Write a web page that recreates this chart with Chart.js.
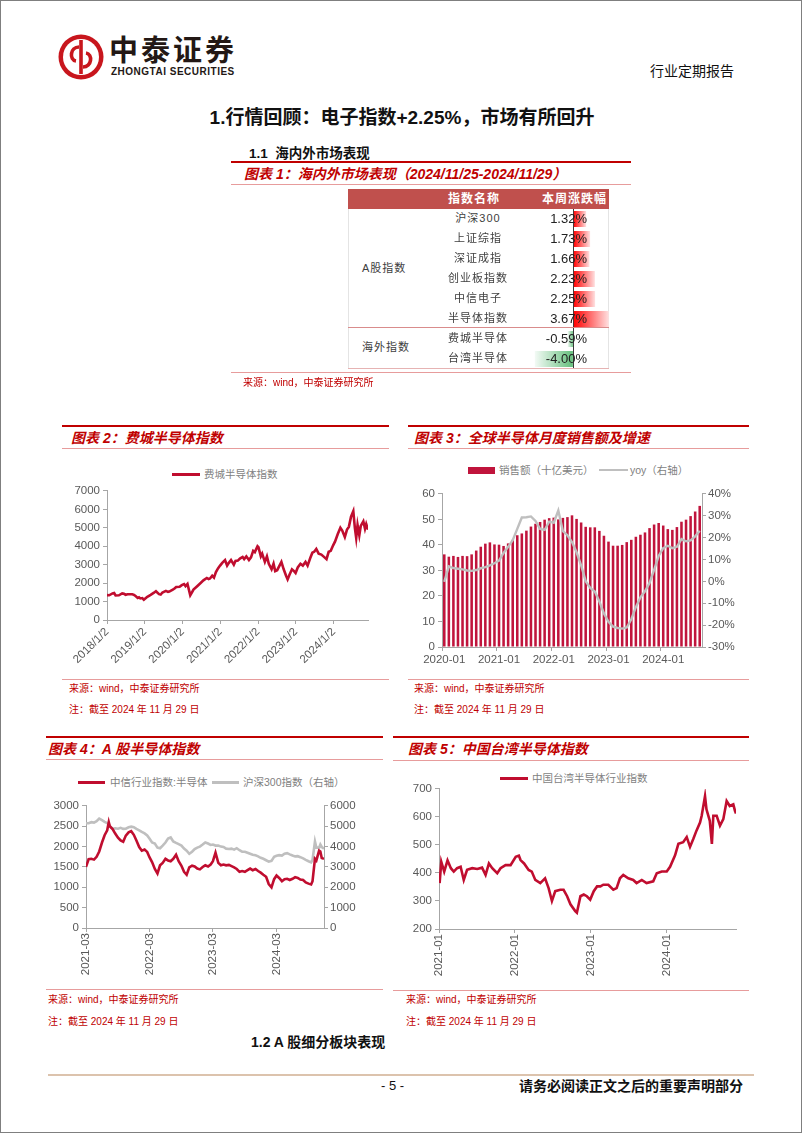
<!DOCTYPE html>
<html>
<head>
<meta charset="utf-8">
<script src="https://cdn.jsdelivr.net/npm/chart.js@4.4.1/dist/chart.umd.min.js"></script>
<style>
body { margin: 0; background: #fff; }
#page { position: relative; width: 802px; height: 1133px; border: 1px solid #7f7f7f; box-sizing: border-box; overflow: hidden; background: #fff;
  font-family: "Liberation Sans", "Noto Sans CJK SC", sans-serif; }
.a { position: absolute; }
.t { position: absolute; white-space: nowrap; line-height: 1; }
.ttl { font-size: 14px; font-weight: bold; font-style: italic; color: #c00000; }
.src { font-size: 10px; color: #c00000; }
.bar-top { position: absolute; height: 2px; background: #c00000; }
.thin { position: absolute; height: 1px; background: #e79c9c; }
.leg { font-size: 10.5px; color: #7f7f7f; }
canvas { position: absolute; }
</style>
</head>
<body>
<div id="page">
  <!-- header -->
  <svg class="a" style="left:56px;top:32px" width="48" height="48" viewBox="0 0 48 48">
    <circle cx="24" cy="24" r="22.5" fill="#c8161d"/>
    <circle cx="24" cy="24" r="18" fill="#fff"/>
    <rect x="22.2" y="7" width="3.6" height="34" fill="#c8161d"/>
    <path d="M22 14 C13 14 12 27 19 28" stroke="#c8161d" stroke-width="3.6" fill="none"/>
    <path d="M26 34 C35 34 36 21 29 20" stroke="#c8161d" stroke-width="3.6" fill="none"/>
  </svg>
  <div class="t" style="left:108px;top:33px;font-size:29px;font-weight:bold;letter-spacing:3px;color:#231815;font-family:'Noto Sans CJK SC'">中泰证券</div>
  <div class="t" style="left:110px;top:66px;font-size:10px;font-weight:bold;color:#231815;letter-spacing:0.5px">ZHONGTAI SECURITIES</div>
  <div class="t" style="left:649px;top:63px;font-size:14px;color:#111">行业定期报告</div>

  <div class="t" style="left:0;width:802px;text-align:center;top:107px;font-size:19px;font-weight:bold;color:#111">1.行情回顾：电子指数+2.25%，市场有所回升</div>

  <!-- section 1.1 and table -->
  <div class="t" style="left:248px;top:146px;font-size:13.5px;font-weight:bold;color:#111">1.1&nbsp; 海内外市场表现</div>
  <div class="bar-top" style="left:230px;top:160px;width:400px"></div>
  <div class="t ttl" style="left:243px;top:166px;font-size:14px">图表 1：海内外市场表现（2024/11/25-2024/11/29）</div>
  <div class="thin" style="left:230px;top:183px;width:400px"></div>

  <div class="a" style="left:347px;top:188px;width:261px;height:20px;background:#c0504d"></div>
  <div class="t" style="left:447px;top:192px;font-size:12px;font-weight:bold;color:#fff;letter-spacing:1px">指数名称</div>
  <div class="t" style="left:541px;top:192px;font-size:12px;font-weight:bold;color:#fff;letter-spacing:1px">本周涨跌幅</div>
  <div class="a" style="left:347px;top:208px;width:259px;height:159px;border-left:1px solid #e4e4e4;border-right:1px solid #e4e4e4"></div>
  <canvas id="cbar" width="80" height="160" style="left:530px;top:208px"></canvas>
  <div id="tbl"></div>
  <div class="a" style="left:347px;top:326px;width:261px;height:1px;background:#d98c8c"></div>
  <div class="a" style="left:347px;top:367px;width:261px;height:1px;background:#e6b3b3"></div>
  <div class="thin" style="left:230px;top:371px;width:400px"></div>
  <div class="t src" style="left:242px;top:377px">来源：wind，中泰证券研究所</div>

  <!-- panel 2 -->
  <div class="bar-top" style="left:61px;top:424px;width:327px"></div>
  <div class="t ttl" style="left:70px;top:430px">图表 2：费城半导体指数</div>
  <div class="thin" style="left:61px;top:447px;width:327px"></div>
  <div class="a" style="left:171px;top:472px;width:28px;height:3px;background:#c00d2f"></div>
  <div class="t leg" style="left:203px;top:468px">费城半导体指数</div>
  <canvas id="c2" width="320" height="190" style="left:56px;top:480px"></canvas>
  <div class="thin" style="left:61px;top:678px;width:327px"></div>
  <div class="t src" style="left:68px;top:683px">来源：wind，中泰证券研究所</div>
  <div class="t src" style="left:68px;top:704px">注：截至 2024 年 11 月 29 日</div>

  <!-- panel 3 -->
  <div class="bar-top" style="left:407px;top:424px;width:341px"></div>
  <div class="t ttl" style="left:413px;top:430px">图表 3：全球半导体月度销售额及增速</div>
  <div class="thin" style="left:407px;top:447px;width:341px"></div>
  <div class="a" style="left:467px;top:466px;width:27px;height:7px;background:#c0143c"></div>
  <div class="t leg" style="left:498px;top:464px">销售额（十亿美元）</div>
  <div class="a" style="left:598px;top:468px;width:29px;height:2px;background:#bfbfbf"></div>
  <div class="t leg" style="left:629px;top:464px">yoy（右轴）</div>
  <canvas id="c3" width="345" height="185" style="left:400px;top:483px"></canvas>
  <div class="thin" style="left:407px;top:678px;width:341px"></div>
  <div class="t src" style="left:413px;top:683px">来源：wind，中泰证券研究所</div>
  <div class="t src" style="left:413px;top:704px">注：截至 2024 年 11 月 29 日</div>

  <!-- panel 4 -->
  <div class="bar-top" style="left:45px;top:735px;width:337px"></div>
  <div class="t ttl" style="left:47px;top:741px">图表 4：A 股半导体指数</div>
  <div class="thin" style="left:45px;top:758px;width:337px"></div>
  <div class="a" style="left:77px;top:780px;width:27px;height:3px;background:#c00d2f"></div>
  <div class="t leg" style="left:109px;top:776px">中信行业指数:半导体</div>
  <div class="a" style="left:211px;top:780px;width:27px;height:3px;background:#bfbfbf"></div>
  <div class="t leg" style="left:242px;top:776px">沪深300指数（右轴）</div>
  <canvas id="c4" width="322" height="185" style="left:40px;top:795px"></canvas>
  <div class="thin" style="left:45px;top:988px;width:337px"></div>
  <div class="t src" style="left:47px;top:994px">来源：wind，中泰证券研究所</div>
  <div class="t src" style="left:47px;top:1016px">注：截至 2024 年 11 月 29 日</div>

  <!-- panel 5 -->
  <div class="bar-top" style="left:392px;top:735px;width:356px"></div>
  <div class="t ttl" style="left:407px;top:741px">图表 5：中国台湾半导体指数</div>
  <div class="thin" style="left:392px;top:759px;width:356px"></div>
  <div class="a" style="left:499px;top:776px;width:28px;height:3px;background:#c00d2f"></div>
  <div class="t leg" style="left:531px;top:772px">中国台湾半导体行业指数</div>
  <canvas id="c5" width="345" height="200" style="left:400px;top:778px"></canvas>
  <div class="thin" style="left:392px;top:989px;width:356px"></div>
  <div class="t src" style="left:405px;top:994px">来源：wind，中泰证券研究所</div>
  <div class="t src" style="left:405px;top:1016px">注：截至 2024 年 11 月 29 日</div>

  <div class="t" style="left:250px;top:1034px;font-size:14px;font-weight:bold;color:#111">1.2 A 股细分板块表现</div>

  <!-- footer -->
  <div class="a" style="left:47px;top:1073px;width:706px;height:2px;background:#dcc3ad"></div>
  <div class="t" style="left:380px;top:1078px;font-size:13px;color:#111">- 5 -</div>
  <div class="t" style="left:518px;top:1078px;font-size:14px;font-weight:bold;color:#111">请务必阅读正文之后的重要声明部分</div>
</div>

<script>
// ---------- table 1 ----------
const tblNames = ['沪深300', '上证综指', '深证成指', '创业板指数', '中信电子', '半导体指数', '费城半导体', '台湾半导体'];
const tblChange = [1.32, 1.73, 1.66, 2.23, 2.25, 3.67, -0.59, -4.00];

// ---------- chart 2: 费城半导体指数 ----------
const soxDates = ['2018-01-02', '2018-01-23', '2018-02-24', '2018-03-12', '2018-03-26', '2018-04-27', '2018-05-29', '2018-06-15',
  '2018-07-01', '2018-07-20', '2018-08-02', '2018-09-03', '2018-09-20', '2018-10-05', '2018-10-26', '2018-11-07', '2018-11-20',
  '2018-12-09', '2018-12-24', '2019-01-10', '2019-01-27', '2019-02-28', '2019-04-01', '2019-04-20', '2019-05-20', '2019-06-05',
  '2019-06-22', '2019-07-25', '2019-08-15', '2019-08-27', '2019-09-30', '2019-10-20', '2019-11-02', '2019-12-05', '2019-12-26',
  '2020-01-17', '2020-01-31', '2020-02-19', '2020-03-17', '2020-04-01', '2020-04-17', '2020-05-20', '2020-06-20', '2020-07-22',
  '2020-08-24', '2020-09-10', '2020-09-24', '2020-10-15', '2020-11-01', '2020-11-20', '2020-12-10', '2020-12-30', '2021-01-20',
  '2021-02-16', '2021-03-08', '2021-03-25', '2021-04-15', '2021-05-12', '2021-05-28', '2021-06-20', '2021-07-10', '2021-08-05',
  '2021-08-20', '2021-09-10', '2021-10-05', '2021-10-25', '2021-11-15', '2021-12-01', '2021-12-27', '2022-01-05', '2022-01-28',
  '2022-02-10', '2022-03-08', '2022-03-28', '2022-04-15', '2022-05-12', '2022-05-31', '2022-06-16', '2022-07-05', '2022-08-15',
  '2022-09-06', '2022-09-29', '2022-10-14', '2022-11-01', '2022-11-25', '2022-12-15', '2022-12-30', '2023-01-20', '2023-02-15',
  '2023-03-10', '2023-04-05', '2023-04-25', '2023-05-20', '2023-06-10', '2023-06-28', '2023-07-18', '2023-08-10', '2023-09-05',
  '2023-09-25', '2023-10-25', '2023-11-15', '2023-12-05', '2023-12-28', '2024-01-15', '2024-02-10', '2024-03-07', '2024-03-25',
  '2024-04-19', '2024-05-10', '2024-05-28', '2024-06-18', '2024-07-10', '2024-07-25', '2024-08-07', '2024-08-20', '2024-09-06',
  '2024-09-20', '2024-10-15', '2024-10-31', '2024-11-12', '2024-11-29'];
const soxValues = [1350, 1340, 1440, 1460, 1330, 1340, 1440, 1420,
  1370, 1400, 1400, 1400, 1360, 1300, 1200, 1230, 1170,
  1190, 1100, 1180, 1260, 1360, 1480, 1560, 1400, 1380,
  1490, 1580, 1520, 1540, 1650, 1720, 1790, 1800, 1890,
  1950, 1840, 1960, 1340, 1480, 1650, 1820, 1980, 2150,
  2280, 2220, 2250, 2400, 2300, 2600, 2800, 2950, 3100,
  3250, 2950, 3100, 3250, 3000, 3200, 3220, 3330, 3420,
  3300, 3450, 3250, 3400, 3750, 3680, 4000, 3950, 3450,
  3600, 3150, 3450, 3050, 2750, 3050, 2650, 2700, 3150,
  2750, 2400, 2200, 2450, 2750, 2650, 2550, 2850, 3050,
  2950, 3150, 2950, 3350, 3650, 3700, 3850, 3600, 3550,
  3450, 3300, 3700, 3750, 4050, 4250, 4650, 5000, 4850,
  4500, 4900, 5050, 5600, 5900, 5000, 4450, 5150, 4600,
  5100, 5350, 4950, 5200, 4900];
const soxTickDates = ['2018-01-02', '2019-01-02', '2020-01-02', '2021-01-02', '2022-01-02', '2023-01-02', '2024-01-02'];
const soxTickLabels = ['2018/1/2', '2019/1/2', '2020/1/2', '2021/1/2', '2022/1/2', '2023/1/2', '2024/1/2'];

// ---------- chart 3: 全球半导体月度销售额 ----------
const salesMonths = ['2020-01', '2020-02', '2020-03', '2020-04', '2020-05', '2020-06', '2020-07', '2020-08', '2020-09', '2020-10', '2020-11', '2020-12',
  '2021-01', '2021-02', '2021-03', '2021-04', '2021-05', '2021-06', '2021-07', '2021-08', '2021-09', '2021-10', '2021-11', '2021-12',
  '2022-01', '2022-02', '2022-03', '2022-04', '2022-05', '2022-06', '2022-07', '2022-08', '2022-09', '2022-10', '2022-11', '2022-12',
  '2023-01', '2023-02', '2023-03', '2023-04', '2023-05', '2023-06', '2023-07', '2023-08', '2023-09', '2023-10', '2023-11', '2023-12',
  '2024-01', '2024-02', '2024-03', '2024-04', '2024-05', '2024-06', '2024-07', '2024-08', '2024-09'];
const salesValues = [36.3, 35.4, 35.7, 35.3, 35.7, 35.6, 36.3, 37.8, 39.3, 40.5, 41.0, 40.2,
  40.1, 39.6, 40.6, 42.0, 43.8, 44.5, 45.6, 47.2, 48.3, 49.0, 49.9, 50.5,
  50.7, 50.0, 50.6, 50.9, 51.6, 50.2, 48.8, 47.1, 46.9, 46.9, 45.5, 43.6,
  41.3, 39.7, 39.7, 40.0, 41.1, 42.0, 43.2, 44.0, 44.9, 46.6, 48.0, 48.6,
  47.6, 46.2, 45.9, 47.0, 49.1, 49.9, 51.3, 53.1, 55.3];
const salesYoy = [-0.2, 6.9, 6.1, 5.8, 5.5, 5.0, 4.8, 5.2, 6.0, 6.5, 7.3, 8.3,
  9.5, 13.0, 15.8, 18.8, 24.0, 29.2, 29.3, 29.7, 27.6, 24.0, 23.5, 27.3,
  26.8, 32.4, 23.0, 21.1, 18.0, 13.3, 7.3, 0.1, -3.0, -4.6, -9.2, -14.7,
  -18.5, -20.7, -21.3, -21.6, -21.1, -17.3, -11.8, -7.3, -4.5, -0.7, 5.3, 11.6,
  15.2, 16.3, 15.2, 15.8, 19.3, 18.3, 18.7, 20.6, 23.2];

// ---------- chart 4: A股半导体指数 ----------
const a4Dates = ['2021-03-01', '2021-03-16', '2021-04-01', '2021-04-16', '2021-05-01', '2021-05-16', '2021-06-01', '2021-06-16',
  '2021-07-01', '2021-07-10', '2021-07-16', '2021-08-01', '2021-08-16', '2021-09-01', '2021-09-16', '2021-10-01', '2021-10-16',
  '2021-11-01', '2021-11-16', '2021-12-01', '2021-12-16', '2022-01-01', '2022-01-16', '2022-02-01', '2022-02-16', '2022-03-01',
  '2022-03-16', '2022-04-01', '2022-04-16', '2022-05-01', '2022-05-16', '2022-06-01', '2022-06-16', '2022-07-01', '2022-07-16',
  '2022-08-01', '2022-08-16', '2022-09-01', '2022-09-16', '2022-10-01', '2022-10-16', '2022-11-01', '2022-11-16', '2022-12-01',
  '2022-12-16', '2023-01-01', '2023-01-16', '2023-02-01', '2023-02-16', '2023-03-01', '2023-03-16', '2023-04-01', '2023-04-16',
  '2023-05-01', '2023-05-16', '2023-06-01', '2023-06-16', '2023-07-01', '2023-07-16', '2023-08-01', '2023-08-16', '2023-09-01',
  '2023-09-16', '2023-10-01', '2023-10-16', '2023-11-01', '2023-11-16', '2023-12-01', '2023-12-16', '2024-01-01', '2024-01-16',
  '2024-02-01', '2024-02-16', '2024-03-01', '2024-03-16', '2024-04-01', '2024-04-16', '2024-05-01', '2024-05-16', '2024-06-01',
  '2024-06-16', '2024-07-01', '2024-07-16', '2024-08-01', '2024-08-16', '2024-09-01', '2024-09-16', '2024-09-24', '2024-10-08',
  '2024-10-16', '2024-11-01', '2024-11-08', '2024-11-16', '2024-11-29'];
const a4Semi = [1500, 1690, 1700, 1680, 1750, 1880, 2100, 2280,
  2400, 2600, 2500, 2430, 2320, 2220, 2150, 2120, 2270,
  2350, 2380, 2290, 2150, 1990, 1900, 1930, 1870, 1740,
  1620, 1450, 1340, 1540, 1600, 1700, 1660, 1640, 1700,
  1800, 1640, 1530, 1380, 1310, 1490, 1530, 1510, 1460,
  1440, 1500, 1540, 1510, 1560, 1640, 1850, 1600, 1540,
  1560, 1540, 1550, 1520, 1490, 1450, 1380, 1400, 1380,
  1420, 1460, 1420, 1450, 1400, 1360, 1310, 1260, 1080,
  1000, 1200, 1290, 1230, 1150, 1200, 1210, 1180, 1210,
  1250, 1230, 1190, 1180, 1120, 1090, 1070, 1150, 1700,
  1660, 1900, 1880, 1720, 1700];
const a4Hs300 = [5150, 5150, 5200, 5180, 5250, 5380, 5300, 5220,
  5150, 5100, 5000, 4880, 4900, 4880, 4920, 4870, 4880,
  4950, 4980, 4950, 4870, 4800, 4720, 4650, 4550, 4400,
  4200, 4150, 3950, 3920, 4050, 4200, 4400, 4450, 4250,
  4180, 4120, 4050, 3900, 3800, 3650, 3750, 3880, 3950,
  4000, 4100, 4200, 4150, 4080, 4100, 4050, 4050, 4000,
  3980, 3900, 3880, 3900, 3850, 3920, 3820, 3750, 3750,
  3700, 3650, 3600, 3570, 3520, 3450, 3400, 3330, 3260,
  3300, 3500, 3550, 3580, 3560, 3650, 3680, 3620, 3560,
  3520, 3530, 3480, 3420, 3350, 3280, 3230, 3350, 4250,
  3950, 3950, 4100, 3980, 3900];
const a4TickDates = ['2021-03-01', '2022-03-01', '2023-03-01', '2024-03-01'];
const a4TickLabels = ['2021-03', '2022-03', '2023-03', '2024-03'];

// ---------- chart 5: 中国台湾半导体指数 ----------
const twDates = ['2021-01-04', '2021-01-12', '2021-01-26', '2021-02-11', '2021-02-27', '2021-03-13', '2021-03-29', '2021-04-15',
  '2021-04-30', '2021-05-16', '2021-06-10', '2021-07-04', '2021-07-27', '2021-08-13', '2021-08-29', '2021-09-14', '2021-10-08',
  '2021-10-24', '2021-11-17', '2021-12-11', '2022-01-05', '2022-01-20', '2022-01-28', '2022-02-14', '2022-03-08', '2022-03-23',
  '2022-04-09', '2022-05-03', '2022-05-26', '2022-06-12', '2022-06-28', '2022-07-14', '2022-08-07', '2022-08-23', '2022-09-09',
  '2022-09-25', '2022-10-18', '2022-10-26', '2022-11-12', '2022-11-28', '2022-12-13', '2022-12-29', '2023-01-15', '2023-01-31',
  '2023-02-16', '2023-03-02', '2023-03-26', '2023-04-19', '2023-05-05', '2023-05-21', '2023-06-06', '2023-06-30', '2023-07-24',
  '2023-08-09', '2023-09-03', '2023-09-26', '2023-10-28', '2023-11-14', '2023-12-08', '2024-01-01', '2024-01-17', '2024-02-10',
  '2024-02-26', '2024-03-20', '2024-04-06', '2024-04-22', '2024-05-08', '2024-05-23', '2024-06-09', '2024-06-17', '2024-07-03',
  '2024-07-10', '2024-07-26', '2024-08-05', '2024-08-12', '2024-08-28', '2024-09-13', '2024-09-29', '2024-10-15', '2024-10-30',
  '2024-11-16', '2024-11-24', '2024-11-29'];
const twValues = [364, 440, 405, 445, 417, 405, 417, 422,
  375, 411, 417, 414, 419, 393, 434, 417, 399,
  417, 428, 428, 458, 462, 446, 434, 411, 405,
  375, 364, 381, 346, 300, 335, 340, 340, 317,
  288, 264, 258, 317, 323, 317, 305, 335, 352,
  352, 358, 358, 340, 346, 381, 393, 381, 375,
  364, 375, 364, 370, 399, 405, 405, 422, 463,
  504, 510, 528, 493, 522, 551, 580, 604, 674,
  627, 586, 504, 604, 604, 569, 592, 657, 639,
  645, 622, 612];
const twTickDates = ['2021-01-01', '2022-01-01', '2023-01-01', '2024-01-01'];
const twTickLabels = ['2021-01', '2022-01', '2023-01', '2024-01'];

// ---------- helpers ----------
const RED = '#c00d2f';
const GRAY_LINE = '#bfbfbf';
const AXIS = '#a6a6a6';
const TICK_FONT = { family: '"Liberation Sans", Arial, sans-serif', size: 11.5 };
const TICK_COLOR = '#595959';

function dayNum(s) { return Date.parse(s) / 86400000; }
function pts(dates, vals) { return dates.map((d, i) => ({ x: dayNum(d), y: vals[i] })); }
function fixW(w) { return s => { s.width = w; }; }
function fixH(h) { return s => { s.height = h; }; }
const plain = v => String(v); // no thousands separator, like the original

function yAxis(min, max, step, width, pos, fmt) {
  return {
    position: pos || 'left', min: min, max: max,
    ticks: { stepSize: step, font: TICK_FONT, color: TICK_COLOR, padding: pos === 'right' ? 2 : 3, callback: fmt || plain },
    grid: { drawOnChartArea: false, tickLength: 4, color: AXIS },
    border: { color: AXIS },
    afterFit: fixW(width)
  };
}

function dateAxis(first, last, tickDates, tickLabels, rotation, height) {
  return {
    type: 'linear', min: dayNum(first), max: dayNum(last),
    afterBuildTicks: ax => { ax.ticks = tickDates.map(d => ({ value: dayNum(d) })); },
    ticks: { callback: (v, i) => tickLabels[i], autoSkip: false, minRotation: rotation, maxRotation: rotation,
      font: TICK_FONT, color: TICK_COLOR, padding: 1 },
    grid: { drawOnChartArea: false, tickLength: 4, color: AXIS },
    border: { color: AXIS },
    afterFit: fixH(height)
  };
}

const base = {
  animation: false, responsive: false,
  plugins: { legend: { display: false }, tooltip: { enabled: false } }
};

// ---------- table text ----------
(function buildTable() {
  const tbl = document.getElementById('tbl');
  const put = (txt, style) => {
    const d = document.createElement('div');
    d.className = 't';
    d.style.cssText = style;
    d.textContent = txt;
    tbl.appendChild(d);
  };
  put('A股指数', 'left:361px;top:262px;font-size:11px;color:#404040;letter-spacing:1px');
  put('海外指数', 'left:361px;top:341px;font-size:11px;color:#404040;letter-spacing:1px');
  tblNames.forEach((n, i) => {
    const cy = 218 + i * 20;
    put(n, 'left:427px;width:100px;text-align:center;top:' + (cy - 6) + 'px;font-size:11px;color:#404040;letter-spacing:1px');
    put(tblChange[i].toFixed(2) + '%', 'left:506px;width:80px;text-align:right;top:' + (cy - 7) + 'px;font-size:13px;color:#222');
  });
})();

// ---------- data bars in table ----------
function dataBarFill(ctx) {
  const chart = ctx.chart;
  if (!chart.chartArea || ctx.raw === undefined) return '#f00';
  const sx = chart.scales.x;
  const x0 = sx.getPixelForValue(0);
  const x1 = sx.getPixelForValue(ctx.raw);
  const g = chart.ctx.createLinearGradient(x0, 0, x1, 0);
  if (ctx.raw >= 0) {
    g.addColorStop(0, '#ff0000');
    g.addColorStop(1, '#ffe0e0');
  } else {
    g.addColorStop(0, '#63be7b');
    g.addColorStop(1, '#f3faf5');
  }
  return g;
}

new Chart(document.getElementById('cbar'), {
  type: 'bar',
  data: { labels: tblNames, datasets: [{ data: tblChange, backgroundColor: dataBarFill, borderWidth: 0, categoryPercentage: 0.8, barPercentage: 1 }] },
  options: Object.assign({}, base, {
    indexAxis: 'y',
    layout: { padding: 0 },
    scales: {
      x: { min: -4.4, max: 3.9, afterBuildTicks: ax => { ax.ticks = [{ value: 0 }]; },
        ticks: { display: false }, grid: { drawTicks: false, color: '#3a3a3a', lineWidth: 1 }, border: { display: false },
        afterFit: fixH(0) },
      y: { display: false }
    }
  })
});

// ---------- chart 2 ----------
new Chart(document.getElementById('c2'), {
  type: 'line',
  data: { datasets: [{ data: pts(soxDates, soxValues), borderColor: RED, borderWidth: 2.6, pointRadius: 0, tension: 0 }] },
  options: Object.assign({}, base, {
    layout: { padding: { top: 8, right: 9, left: 0, bottom: 0 } },
    scales: {
      x: dateAxis('2018-01-02', '2024-11-29', soxTickDates, soxTickLabels, 45, 51),
      y: yAxis(0, 7000, 1000, 50)
    }
  })
});

// ---------- chart 3 ----------
new Chart(document.getElementById('c3'), {
  type: 'bar',
  data: {
    labels: salesMonths,
    datasets: [
      { type: 'line', data: salesYoy, yAxisID: 'y1', borderColor: GRAY_LINE, borderWidth: 2.4, pointRadius: 0, tension: 0, order: 0 },
      { type: 'bar', data: salesValues, yAxisID: 'y', backgroundColor: '#c0143c', categoryPercentage: 0.56, barPercentage: 1, order: 1 }
    ]
  },
  options: Object.assign({}, base, {
    layout: { padding: { top: 8, right: 0, left: 0, bottom: 0 } },
    scales: {
      x: {
        ticks: { autoSkip: false, maxRotation: 0, minRotation: 0, font: TICK_FONT, color: TICK_COLOR, padding: 2,
          callback: (v, i) => (i % 12 === 0 ? salesMonths[i] : '') },
        grid: { drawOnChartArea: false, tickLength: 4, tickColor: c => (c.index % 12 === 0 ? AXIS : 'rgba(0,0,0,0)'), color: AXIS },
        border: { color: AXIS },
        afterFit: fixH(22)
      },
      y: yAxis(0, 60, 10, 41),
      y1: yAxis(-30, 40, 10, 44, 'right', v => v + '%')
    }
  })
});

// ---------- chart 4 ----------
new Chart(document.getElementById('c4'), {
  type: 'line',
  data: {
    datasets: [
      { data: pts(a4Dates, a4Semi), yAxisID: 'y', borderColor: RED, borderWidth: 2.6, pointRadius: 0, tension: 0, order: 0 },
      { data: pts(a4Dates, a4Hs300), yAxisID: 'y1', borderColor: GRAY_LINE, borderWidth: 2.6, pointRadius: 0, tension: 0, order: 1 }
    ]
  },
  options: Object.assign({}, base, {
    layout: { padding: { top: 8, right: 0, left: 0, bottom: 0 } },
    scales: {
      x: dateAxis('2021-03-01', '2024-11-29', a4TickDates, a4TickLabels, 90, 53),
      y: yAxis(0, 3000, 500, 45),
      y1: yAxis(0, 6000, 1000, 39, 'right')
    }
  })
});

// ---------- chart 5 ----------
new Chart(document.getElementById('c5'), {
  type: 'line',
  data: { datasets: [{ data: pts(twDates, twValues), borderColor: RED, borderWidth: 2.6, pointRadius: 0, tension: 0 }] },
  options: Object.assign({}, base, {
    layout: { padding: { top: 8, right: 10, left: 0, bottom: 0 } },
    scales: {
      x: dateAxis('2021-01-01', '2024-11-29', twTickDates, twTickLabels, 90, 50),
      y: yAxis(200, 700, 50, 38)
    }
  })
});
</script>
</body>
</html>
